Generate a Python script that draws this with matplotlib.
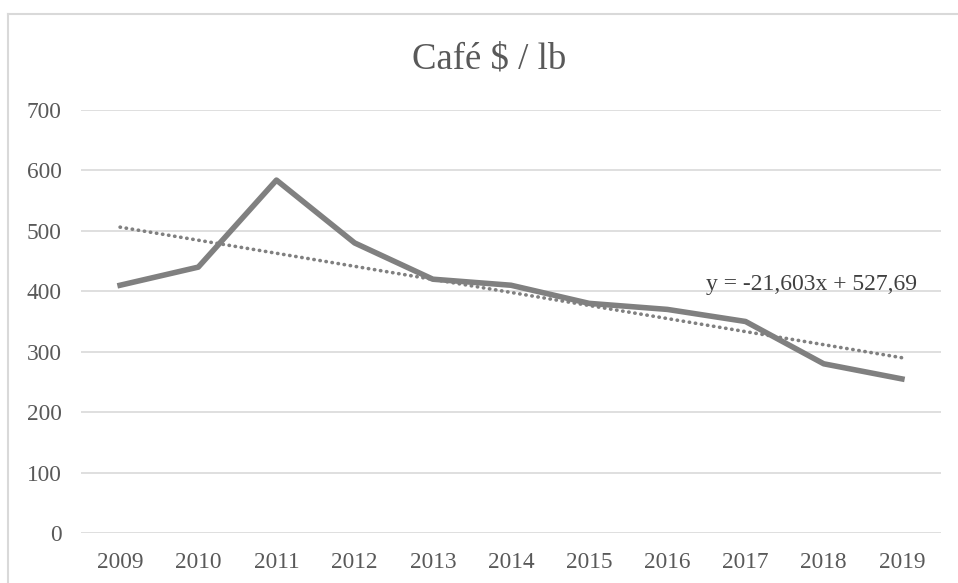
import matplotlib.pyplot as plt
import numpy as np
from matplotlib.lines import Line2D

years = ['2009', '2010', '2011', '2012', '2013', '2014', '2015', '2016', '2017', '2018', '2019']
price = [410, 440, 584, 480, 420, 410, 380, 370, 350, 280, 255]
eq_label = 'y = -21,603x + 527,69'

plt.rcParams['font.family'] = ['Liberation Serif', 'DejaVu Serif']

fig = plt.figure(figsize=(9.58, 5.83), dpi=100)
ax = fig.add_axes([81 / 958, 1 - 533 / 583, (941 - 81) / 958, (533 - 110) / 583])

x = np.arange(len(years))
ax.plot(x, price, color='#808080', lw=4, solid_joinstyle='round', zorder=3)

# linear trend (Excel uses x = 1..n)
xn = x + 1
m, b = np.polyfit(xn, price, 1)
ax.plot(x, m * xn + b, color='#808080', lw=2.6, linestyle=(0, (0.1, 1.6)),
        dash_capstyle='round', zorder=2)
ax.text(8.85, 411, eq_label, fontsize=17, color='#404040', ha='center', va='center')

ax.set_xlim(-0.5, len(years) - 0.5)
ax.set_ylim(0, 700)
ax.set_yticks(range(0, 701, 100))
ax.set_xticks(x)
ax.set_xticklabels(years)
ax.grid(axis='y', color='#d9d9d9', lw=1.2)
ax.set_axisbelow(True)
for s in ax.spines.values():
    s.set_visible(False)
ax.tick_params(length=0, labelsize=16.8, labelcolor='#595959')
ax.tick_params(axis='y', pad=14)
ax.tick_params(axis='x', pad=14)

fig.text(489 / 958, 1 - 59 / 583, 'Café $ / lb', fontsize=26.5, color='#595959',
         ha='center', va='center')

# chart border
fig.add_artist(Line2D([8 / 958, 1], [1 - 14 / 583] * 2, transform=fig.transFigure,
                      color='#d9d9d9', lw=1.5))
fig.add_artist(Line2D([8 / 958] * 2, [0, 1 - 14 / 583], transform=fig.transFigure,
                      color='#d9d9d9', lw=1.5))

fig.savefig('out.png', dpi=100)
